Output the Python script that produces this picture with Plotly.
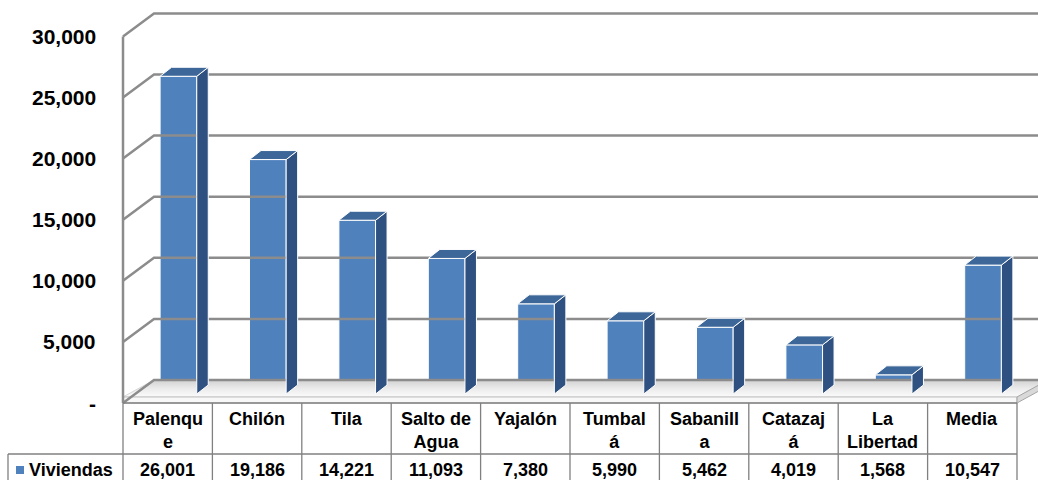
import plotly.graph_objects as go

# ---------------- data ----------------
categories = ["Palenque", "Chilón", "Tila", "Salto de Agua", "Yajalón",
              "Tumbalá", "Sabanilla", "Catazajá", "La Libertad", "Media"]
header_labels = ["Palenqu<br>e", "Chilón", "Tila", "Salto de<br>Agua", "Yajalón",
                 "Tumbal<br>á", "Sabanill<br>a", "Catazaj<br>á", "La<br>Libertad", "Media"]
viviendas = [26001, 19186, 14221, 11093, 7380, 5990, 5462, 4019, 1568, 10547]
series_name = "Viviendas"
tick_vals = [0, 5000, 10000, 15000, 20000, 25000, 30000]
tick_text = ["-", "5,000", "10,000", "15,000", "20,000", "25,000", "30,000"]

# ---------------- geometry / style ----------------
W, H = 1038, 480
X0PX = 123.0        # pixel of left category edge
COLPX = 89.4        # pixels per category
Y0PX = 403.0        # pixel of value 0 (front)
KY = 0.01222        # pixels per value unit

xmin = -0.5 - X0PX / COLPX
xmax = -0.5 + (W - X0PX) / COLPX
ymin = -(H - Y0PX) / KY
ymax = Y0PX / KY

WALL_DX = 31 / COLPX
WALL_DY = 23 / KY
BAR_OFF = 0.12
BAR_W = 0.41
BAR_BASE = 9 / KY
BAR_DX = 11.5 / COLPX
BAR_DY = 9 / KY
SLAB = 6 / KY

n = len(categories)
xl, xr = -0.5, n - 0.5

FONT = "Liberation Sans, Arial, sans-serif"
BLUE = "#4f81bd"
SIDE = "#2f5181"
TOP = "#3d6799"
GRID = "#8c8c8c"
TBL = "#808080"

fig = go.Figure()

# floor top surface
fig.add_trace(go.Scatter(
    x=[xl, xr, xr + WALL_DX, xl + WALL_DX, xl],
    y=[SLAB, SLAB, WALL_DY, WALL_DY, SLAB],
    mode="lines", fill="toself",
    fillgradient=dict(type="vertical", colorscale=[[0, "#fbfbfb"], [0.5, "#ebebeb"], [1, "#d2d2d2"]]),
    line=dict(color="#d6d6d6", width=1), hoverinfo="skip"))
# floor front face
fig.add_trace(go.Scatter(
    x=[xl, xr, xr, xl, xl], y=[0, 0, SLAB, SLAB, 0],
    mode="lines", fill="toself", fillcolor="#f8f8f8",
    line=dict(color="#bfbfbf", width=1), hoverinfo="skip"))
# floor right face
fig.add_trace(go.Scatter(
    x=[xr, xr + WALL_DX, xr + WALL_DX, xr, xr],
    y=[0, WALL_DY - SLAB, WALL_DY, SLAB, 0],
    mode="lines", fill="toself", fillcolor="#d9d9d9",
    line=dict(color="#a6a6a6", width=1), hoverinfo="skip"))

# gridlines: back wall + side wall diagonals
gx, gy = [], []
for v in tick_vals:
    gx += [xl, xl + WALL_DX, xmax + 1, None]
    gy += [v, v + WALL_DY, v + WALL_DY, None]
gx += [xl, xl]
gy += [0, tick_vals[-1]]
fig.add_trace(go.Scatter(x=gx, y=gy, mode="lines",
                         line=dict(color=GRID, width=2.5), hoverinfo="skip"))

# bars: front face
fig.add_trace(go.Bar(
    x=[i + BAR_OFF for i in range(n)], y=viviendas, base=[BAR_BASE] * n,
    width=BAR_W, marker=dict(color=BLUE, line=dict(color="white", width=1)),
    hoverinfo="skip"))

# bar side faces & top faces
sx, sy, tx, ty = [], [], [], []
for i, v in enumerate(viviendas):
    x0 = i + BAR_OFF - BAR_W / 2
    x1 = i + BAR_OFF + BAR_W / 2
    b = BAR_BASE
    t = BAR_BASE + v
    sx += [x1, x1, x1 + BAR_DX, x1 + BAR_DX, x1, None]
    sy += [b, t, t + BAR_DY, b + BAR_DY, b, None]
    tx += [x0, x1, x1 + BAR_DX, x0 + BAR_DX, x0, None]
    ty += [t, t, t + BAR_DY, t + BAR_DY, t, None]
fig.add_trace(go.Scatter(x=sx, y=sy, mode="lines", fill="toself", fillcolor=SIDE,
                         line=dict(color="white", width=1), hoverinfo="skip"))
fig.add_trace(go.Scatter(x=tx, y=ty, mode="lines", fill="toself", fillcolor=TOP,
                         line=dict(color="white", width=1), hoverinfo="skip"))

# ---------------- table ----------------
def px(p):
    return p / W

def py(p):
    return 1 - p / H

HDR_TOP, ROW_TOP, TBL_BOT = 403, 454, 480
ROW_MID = 470
LEFT_CELL = 8
shapes = []
for i in range(n + 1):
    xp = X0PX + i * COLPX
    shapes.append(dict(type="line", xref="paper", yref="paper",
                       x0=px(xp), x1=px(xp), y0=py(HDR_TOP), y1=py(TBL_BOT),
                       line=dict(color=TBL, width=1.3)))
shapes.append(dict(type="line", xref="paper", yref="paper",
                   x0=px(X0PX), x1=px(X0PX + n * COLPX), y0=py(HDR_TOP), y1=py(HDR_TOP),
                   line=dict(color=TBL, width=1.3)))
shapes.append(dict(type="line", xref="paper", yref="paper",
                   x0=px(LEFT_CELL), x1=px(X0PX + n * COLPX), y0=py(ROW_TOP), y1=py(ROW_TOP),
                   line=dict(color=TBL, width=1.3)))
shapes.append(dict(type="line", xref="paper", yref="paper",
                   x0=px(LEFT_CELL), x1=px(LEFT_CELL), y0=py(ROW_TOP), y1=py(TBL_BOT),
                   line=dict(color=TBL, width=1.3)))
# legend key
shapes.append(dict(type="rect", xref="paper", yref="paper",
                   x0=px(16), x1=px(24), y0=py(ROW_MID + 4), y1=py(ROW_MID - 4),
                   fillcolor=BLUE, line=dict(width=0)))

TFONT = dict(family=FONT, size=18, color="black", weight="bold")
annotations = []
for i, lab in enumerate(header_labels):
    xc = X0PX + (i + 0.5) * COLPX
    annotations.append(dict(xref="paper", yref="paper", x=px(xc), y=py(HDR_TOP + 4),
                            xanchor="center", yanchor="top", text=lab, showarrow=False,
                            font=TFONT))
    annotations.append(dict(xref="paper", yref="paper", x=px(xc), y=py(ROW_MID),
                            xanchor="center", yanchor="middle", text=f"{viviendas[i]:,}",
                            showarrow=False, font=TFONT))
annotations.append(dict(xref="paper", yref="paper", x=px(27), y=py(ROW_MID),
                        xanchor="left", yanchor="middle", text=series_name, showarrow=False,
                        font=TFONT))
for v, t in zip(tick_vals, tick_text):
    annotations.append(dict(xref="paper", yref="y", x=px(98), y=v,
                            xanchor="right", yanchor="middle", text=t, showarrow=False,
                            font=dict(family=FONT, size=21, color="black", weight="bold")))

fig.update_layout(
    width=W, height=H, autosize=False,
    margin=dict(l=0, r=0, t=0, b=0, pad=0),
    paper_bgcolor="white", plot_bgcolor="white",
    showlegend=False, barmode="overlay",
    xaxis=dict(range=[xmin, xmax], visible=False, fixedrange=True),
    yaxis=dict(range=[ymin, ymax], visible=False, fixedrange=True),
    shapes=shapes, annotations=annotations,
)

fig.write_html("out.html", config={"displayModeBar": False},
               post_script="document.body.style.margin='0';document.body.style.overflow='hidden';")
